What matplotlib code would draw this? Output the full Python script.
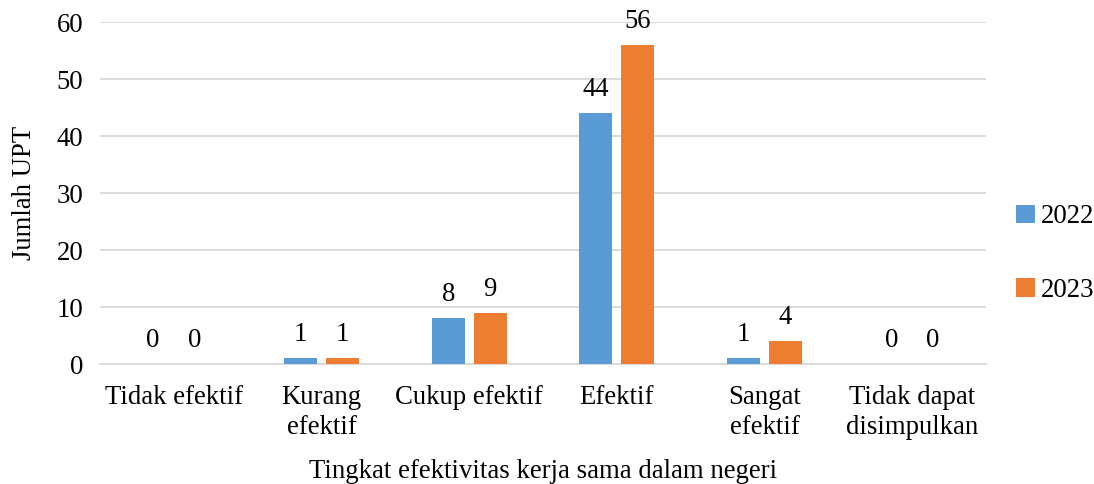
import numpy as np
import matplotlib
matplotlib.use("Agg")
import matplotlib.pyplot as plt

plt.rcParams["font.family"] = ["Liberation Serif", "DejaVu Serif"]

categories = ["Tidak efektif", "Kurang\nefektif", "Cukup efektif", "Efektif",
              "Sangat\nefektif", "Tidak dapat\ndisimpulkan"]
val_2022 = [0, 1, 8, 44, 1, 0]
val_2023 = [0, 1, 9, 56, 4, 0]

blue = "#5B9BD5"
orange = "#ED7D31"
grid_c = "#D9D9D9"
fs = 19.3

fig = plt.figure(figsize=(10.94, 4.84), dpi=100)
ax = fig.add_axes([0.0914, 0.2479, 0.8099, 0.7066])

x = np.arange(len(categories))
w = 0.224
off = 0.142
b1 = ax.bar(x - off, val_2022, w, color=blue, label="2022", zorder=3)
b2 = ax.bar(x + off, val_2023, w, color=orange, label="2023", zorder=3)

for bars, vals in ((b1, val_2022), (b2, val_2023)):
    for r, v in zip(bars, vals):
        ax.annotate(str(v), (r.get_x() + r.get_width() / 2, v),
                    xytext=(0, 8), textcoords="offset points",
                    ha="center", va="bottom", fontsize=fs)

ax.set_xlim(-0.5, len(categories) - 0.5)
ax.set_ylim(0, 60)
ax.set_yticks(range(0, 61, 10))
ax.yaxis.grid(True, color=grid_c, linewidth=1.3, zorder=0)
ax.set_axisbelow(True)
for s in ["top", "right", "left"]:
    ax.spines[s].set_visible(False)
ax.spines["bottom"].set_color(grid_c)
ax.spines["bottom"].set_linewidth(1.3)

ax.set_xticks(x)
ax.set_xticklabels(categories, fontsize=fs, linespacing=1.25)
ax.tick_params(axis="x", length=0, pad=15)
ax.tick_params(axis="y", length=0, pad=12, labelsize=fs)

ax.set_xlabel("Tingkat efektivitas kerja sama dalam negeri", fontsize=fs, labelpad=14)
ax.set_ylabel("Jumlah UPT", fontsize=fs, labelpad=14)

fig.legend(handles=[b1, b2], loc="center left", bbox_to_anchor=(0.907, 0.476),
           frameon=False, fontsize=fs, handlelength=0.7, handleheight=0.7,
           handletextpad=0.2, labelspacing=1.8)

fig.savefig("out.png", dpi=100)
